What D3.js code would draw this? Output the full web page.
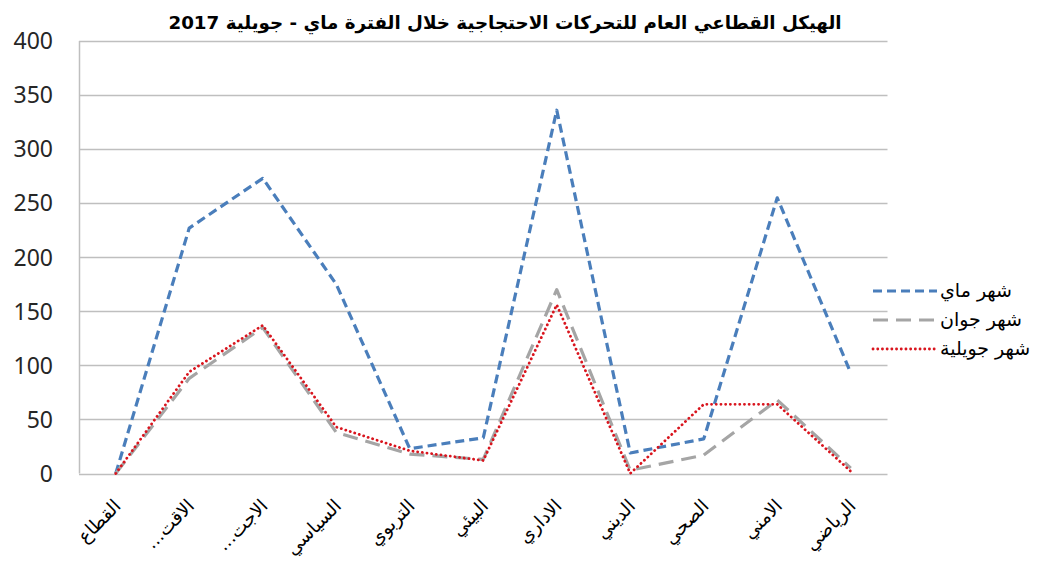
<!DOCTYPE html>
<html>
<head>
<meta charset="utf-8">
<script src="https://cdn.jsdelivr.net/npm/d3@7"></script>
<style>
  body { margin: 0; background: #fff; }
  svg { display: block; }
</style>
</head>
<body>
<div id="chart"></div>
<script>
const categories = ['القطاع', 'الاقت...\u200F', 'الاجت...\u200F', 'السياسي', 'التربوي', 'البيئي', 'الاداري', 'الديني', 'الصحي', 'الامني', 'الرياضي'];
const mayValues = [0, 227, 273, 175, 23, 33, 336, 19, 32, 255, 93];
const juneValues = [0, 88, 135, 38, 18, 13, 170, 3, 17, 68, 5];
const julyValues = [0, 94, 137, 43, 21, 12, 156, 0, 64, 64, 2];
const yTicks = [0, 50, 100, 150, 200, 250, 300, 350, 400];
const seriesNames = ['شهر ماي', 'شهر جوان', 'شهر جويلية'];
const titleText = 'الهيكل القطاعي العام للتحركات الاحتجاجية خلال الفترة ماي - جويلية 2017';

const width = 1042, height = 563;
const plot = {left: 79, right: 887.5, top: 41, bottom: 473.5};

const series = [
  {name: seriesNames[0], values: mayValues, color: '#4a7ebb', width: 3.2, dash: '9,5', cap: 'butt'},
  {name: seriesNames[1], values: juneValues, color: '#a5a5a5', width: 3.2, dash: '15,8', cap: 'butt'},
  {name: seriesNames[2], values: julyValues, color: '#d9151e', width: 2.8, dash: '0.1,4.6', cap: 'round'}
];

const svg = d3.select('#chart').append('svg')
  .attr('width', width)
  .attr('height', height);

const x = d3.scaleBand()
  .domain(categories)
  .range([plot.left, plot.right]);

const y = d3.scaleLinear()
  .domain([0, 400])
  .range([plot.bottom, plot.top]);

const cx = function(d) { return x(d) + x.bandwidth() / 2; };

// Gridlines
svg.append('g')
  .selectAll('line')
  .data(yTicks)
  .enter()
  .append('line')
  .attr('x1', plot.left)
  .attr('x2', plot.right)
  .attr('y1', function(d) { return Math.round(y(d)) + 0.5; })
  .attr('y2', function(d) { return Math.round(y(d)) + 0.5; })
  .attr('stroke', '#bfbfbf')
  .attr('stroke-width', 1.5);

// Left axis line
svg.append('line')
  .attr('x1', plot.left + 0.5)
  .attr('x2', plot.left + 0.5)
  .attr('y1', plot.top)
  .attr('y2', plot.bottom)
  .attr('stroke', '#bfbfbf')
  .attr('stroke-width', 1.5);

// Y tick labels
svg.append('g')
  .selectAll('text')
  .data(yTicks)
  .enter()
  .append('text')
  .attr('x', 53)
  .attr('y', function(d) { return y(d); })
  .attr('dy', '0.36em')
  .attr('text-anchor', 'end')
  .attr('font-family', '"Noto Sans", sans-serif')
  .attr('font-size', 23)
  .attr('fill', '#262626')
  .text(function(d) { return d; });

// X labels, rotated
svg.append('g')
  .selectAll('text')
  .data(categories)
  .enter()
  .append('text')
  .attr('transform', function(d) { return 'translate(' + (cx(d) - 3) + ',498) rotate(-45)'; })
  .attr('dy', '0.7em')
  .attr('text-anchor', 'end')
  .attr('font-family', '"DejaVu Sans", sans-serif')
  .attr('font-size', 18.5)
  .attr('fill', '#000')
  .text(function(d) { return d; });

// Lines
const line = d3.line()
  .x(function(d, i) { return cx(categories[i]); })
  .y(function(d) { return y(d); });

svg.append('g')
  .selectAll('path')
  .data(series)
  .enter()
  .append('path')
  .attr('d', function(s) { return line(s.values); })
  .attr('fill', 'none')
  .attr('stroke', function(s) { return s.color; })
  .attr('stroke-width', function(s) { return s.width; })
  .attr('stroke-dasharray', function(s) { return s.dash; })
  .attr('stroke-linecap', function(s) { return s.cap; })
  .attr('stroke-linejoin', 'round');

// Legend
const legend = svg.append('g')
  .selectAll('g')
  .data(series)
  .enter()
  .append('g')
  .attr('transform', function(d, i) { return 'translate(873,' + (291 + i * 29) + ')'; });

legend.append('line')
  .attr('x1', 0)
  .attr('x2', 64)
  .attr('y1', 0)
  .attr('y2', 0)
  .attr('stroke', function(s) { return s.color; })
  .attr('stroke-width', function(s) { return s.width; })
  .attr('stroke-dasharray', function(s) { return s.dash; })
  .attr('stroke-linecap', function(s) { return s.cap; });

legend.append('text')
  .attr('x', 67)
  .attr('y', 0)
  .attr('dy', '0.3em')
  .attr('font-family', '"DejaVu Sans", sans-serif')
  .attr('font-size', 19)
  .attr('fill', '#000')
  .text(function(s) { return s.name; });

// Title
svg.append('text')
  .attr('x', 505)
  .attr('y', 29)
  .attr('text-anchor', 'middle')
  .attr('font-family', '"DejaVu Sans", sans-serif')
  .attr('font-weight', 'bold')
  .attr('font-size', 18.3)
  .attr('fill', '#000')
  .text(titleText);
</script>
</body>
</html>
